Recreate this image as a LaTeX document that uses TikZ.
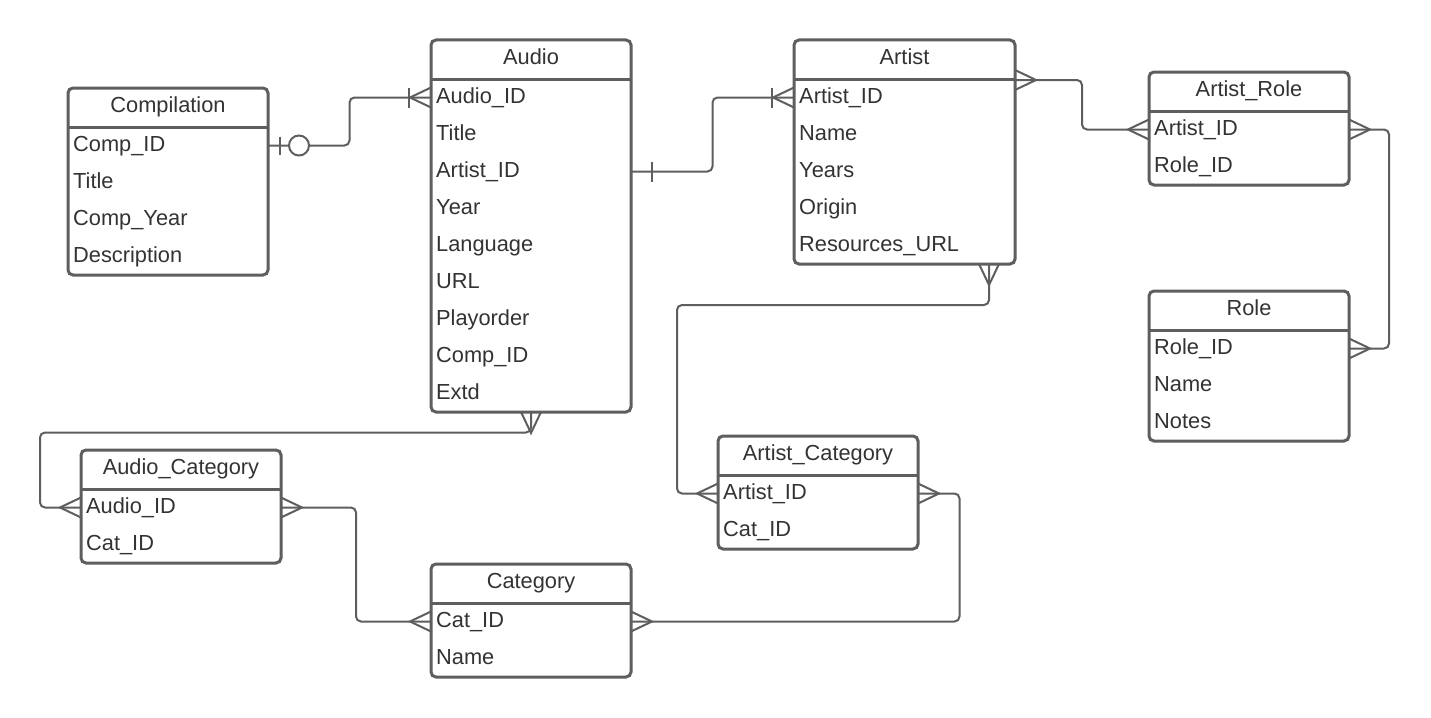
\documentclass[tikz,border=0pt]{standalone}
\usepackage{fontspec}
\setmainfont{Liberation Sans}
\usetikzlibrary{calc}
\definecolor{lg}{HTML}{5E5E5E}
\definecolor{tx}{HTML}{333333}
\tikzset{
  tbl/.style={draw=lg, line width=3pt, rounded corners=5pt, inner sep=0pt, outer sep=0pt, anchor=north west, fill=white},
  sepline/.style={draw=lg, line width=3pt},
  ttl/.style={anchor=base, text=tx, inner sep=0pt, font=\fontsize{21.8pt}{26pt}\selectfont},
  fld/.style={anchor=base west, text=tx, inner sep=0pt, font=\fontsize{21.8pt}{26pt}\selectfont},
  conn/.style={draw=lg, line width=2pt, rounded corners=5pt},
  crowfoot/.pic={\draw[lg, line width=2pt] (0,-10) -- (21,0) -- (0,10);},
  crowbar/.pic={\draw[lg, line width=2pt] (0,-10) -- (21,0) -- (0,10); \draw[lg, line width=2pt] (22,-10) -- (22,10);},
  onebar/.pic={\draw[lg, line width=2pt] (21,-10) -- (21,10);},
  zeroone/.pic={\draw[lg, line width=2pt] (12,-9) -- (12,9); \draw[lg, line width=2pt, fill=white] (31,0) circle[radius=10pt];},
}
\newcommand\ertable[7]{%
  \node[tbl, minimum width=#4pt, minimum height={(39+37*#5)*1pt}] (#1) at (#2,#3) {};
  \draw[sepline] ([yshift=-39pt]#1.north west) -- ([yshift=-39pt]#1.north east);
  \node[ttl] (#1-t) at ([yshift=-24pt]#1.north) {#6};
  \foreach \r [count=\i from 0] in {#7} {
    \node[fld] (#1-f\i) at ([xshift=5pt,yshift={-(63+37*\i)*1pt}]#1.north west) {\r};
    \coordinate (#1-L\i) at ([yshift={-(57.5+37*\i)*1pt}]#1.north west);
    \coordinate (#1-R\i) at ([yshift={-(57.5+37*\i)*1pt}]#1.north east);
  }
}
\begin{document}
\begin{tikzpicture}[x=1pt,y=-1pt]
\fill[white] (0,0) rectangle (1431,717);
\useasboundingbox (0,0) rectangle (1431,717);

\ertable{comp}{68}{88}{200}{4}{Compilation}{Comp\_ID,Title,Comp\_Year,Description}
\ertable{audio}{431}{40}{200}{9}{Audio}{Audio\_ID,Title,Artist\_ID,Year,Language,URL,Playorder,Comp\_ID,Extd}
\ertable{artist}{794}{40}{221}{5}{Artist}{Artist\_ID,Name,Years,Origin,Resources\_URL}
\ertable{artrole}{1149}{72}{200}{2}{Artist\_Role}{Artist\_ID,Role\_ID}
\ertable{role}{1149}{291}{200}{3}{Role}{Role\_ID,Name,Notes}
\ertable{audcat}{81}{450}{200}{2}{Audio\_Category}{Audio\_ID,Cat\_ID}
\ertable{artcat}{718}{436}{200}{2}{Artist\_Category}{Artist\_ID,Cat\_ID}
\ertable{cat}{431}{564}{200}{2}{Category}{Cat\_ID,Name}

% extra attachment points
\coordinate (artist-H) at ([yshift=-40pt]artist.north east);
\coordinate (artist-B) at ([xshift=-26pt]artist.south east);
\coordinate (audio-B) at (audio.south);

% bend points
\coordinate (m1) at ($(comp-R0)!.5!(audio-L0)$);
\coordinate (m2) at ($(audio-R2)!.5!(artist-L0)$);
\coordinate (m3) at ($(artist-H)!.5!(artrole-L0)$);
\coordinate (k4) at ([xshift=40pt]artrole-R0);
\coordinate (k5a) at ([yshift=-41pt]artist-B);
\coordinate (k5b) at ([xshift=-41pt]artcat-L0);
\coordinate (k6) at ([xshift=41.5pt]artcat-R0);
\coordinate (m7) at ($(audcat-R0)!.5!(cat-L0)$);
\coordinate (k8a) at ([yshift=-20.5pt]audio-B);
\coordinate (k8b) at ([xshift=-41pt]audcat-L0);

% connectors
\draw[conn] (comp-R0) -| (m1) |- (audio-L0);
\draw[conn] (audio-R2) -| (m2) |- (artist-L0);
\draw[conn] (artist-H) -| (m3) |- (artrole-L0);
\draw[conn] (artrole-R0) -- (k4) |- (role-R0);
\draw[conn] (artist-B) -- (k5a) -| (k5b) -- (artcat-L0);
\draw[conn] (artcat-R0) -- (k6) |- (cat-R0);
\draw[conn] (audcat-R0) -| (m7) |- (cat-L0);
\draw[conn] (audio-B) -- (k8a) -| (k8b) -- (audcat-L0);

% end markers
\pic at (comp-R0) {zeroone};
\pic[rotate=180] at (audio-L0) {crowbar};
\pic at (audio-R2) {onebar};
\pic[rotate=180] at (artist-L0) {crowbar};
\pic at (artist-H) {crowfoot};
\pic[rotate=180] at (artrole-L0) {crowfoot};
\pic at (artrole-R0) {crowfoot};
\pic at (role-R0) {crowfoot};
\pic[rotate=-90] at (artist-B) {crowfoot};
\pic[rotate=180] at (artcat-L0) {crowfoot};
\pic at (artcat-R0) {crowfoot};
\pic at (cat-R0) {crowfoot};
\pic[rotate=180] at (cat-L0) {crowfoot};
\pic at (audcat-R0) {crowfoot};
\pic[rotate=180] at (audcat-L0) {crowfoot};
\pic[rotate=-90] at (audio-B) {crowfoot};
\end{tikzpicture}
\end{document}
